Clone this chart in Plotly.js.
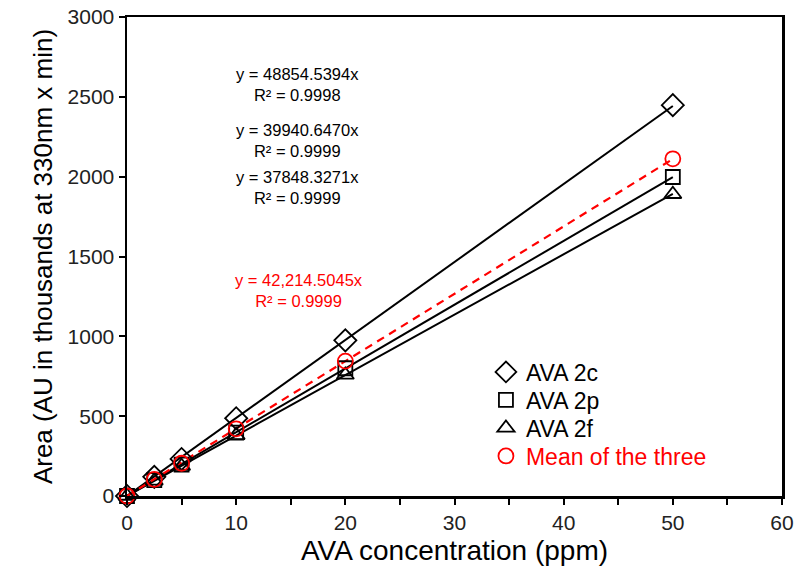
<!DOCTYPE html>
<html><head><meta charset="utf-8">
<script src="https://cdn.plot.ly/plotly-3.0.1.min.js"></script>
<style>body{margin:0;background:#fff}#c{width:798px;height:573px}</style>
</head><body><div id="c"></div>
<script>
const conc = [0, 2.5, 5, 10, 20, 50];
const ava2c = [0, 120, 232, 487, 975, 2448];
const ava2p = [0, 100, 196, 397, 800, 1998];
const ava2f = [0, 95, 187, 380, 758, 1890];
const meanThree = [0, 104, 205, 421, 845, 2112];
const slopes = {c: 48854.5394, p: 39940.6470, f: 37848.3271, m: 42214.5045};
const fitX = [0, 50];
const fit = s => fitX.map(x => s * x / 1000);

const font = 'Liberation Sans, Arial, sans-serif';
const mk = (sym, col, sz) => ({symbol: sym, size: sz, color: col, line: {color: col, width: 1.8}});

const traces = [
  {x: fitX, y: fit(slopes.c), mode: 'lines', line: {color: '#000', width: 2}, showlegend: false, hoverinfo: 'skip'},
  {x: fitX, y: fit(slopes.p), mode: 'lines', line: {color: '#000', width: 2}, showlegend: false, hoverinfo: 'skip'},
  {x: fitX, y: fit(slopes.f), mode: 'lines', line: {color: '#000', width: 2}, showlegend: false, hoverinfo: 'skip'},
  {x: fitX, y: fit(slopes.m), mode: 'lines', line: {color: '#ff0000', width: 2.2, dash: '8px,6px'}, showlegend: false, hoverinfo: 'skip'},
  {x: conc, y: ava2c, mode: 'markers', name: 'AVA 2c', legend: 'legend', marker: mk('diamond-open', '#000', 17), cliponaxis: false},
  {x: conc, y: ava2p, mode: 'markers', name: 'AVA 2p', legend: 'legend2', marker: mk('square-open', '#000', 14), cliponaxis: false},
  {x: conc, y: ava2f, mode: 'markers', name: 'AVA 2f', legend: 'legend3', marker: mk('triangle-up-open', '#000', 15), cliponaxis: false},
  {x: conc, y: meanThree, mode: 'markers', name: 'Mean of the three', legend: 'legend4', marker: mk('circle-open', '#ff0000', 15), cliponaxis: false}
];

const leg = (yc, col) => ({
  x: 0.548, y: yc, xanchor: 'left', yanchor: 'middle',
  font: {family: font, size: 23, color: col},
  bgcolor: 'rgba(0,0,0,0)', itemwidth: 30
});

const annFont = {family: font, size: 16.5, color: '#000'};
const layout = {
  width: 798, height: 573,
  margin: {l: 127, r: 16, t: 17, b: 77},
  paper_bgcolor: '#fff', plot_bgcolor: '#fff',
  font: {family: font, color: '#000'},
  xaxis: {
    range: [0, 60], dtick: 10, tick0: 0, showgrid: false, zeroline: false,
    showline: true, linecolor: '#000', linewidth: 2.5, mirror: true,
    ticks: 'outside', ticklen: 6, tickwidth: 2, tickcolor: '#000',
    minor: {dtick: 5, ticks: 'outside', ticklen: 6, tickwidth: 2, tickcolor: '#000'},
    tickfont: {family: font, size: 21, color: '#222'},
    title: {text: 'AVA concentration (ppm)', font: {family: font, size: 28, color: '#000'}, standoff: 8}
  },
  yaxis: {
    range: [0, 3000], dtick: 500, tick0: 0, showgrid: false, zeroline: false,
    showline: true, linecolor: '#000', linewidth: 2.5, mirror: true,
    ticks: 'outside', ticklen: 6, tickwidth: 2, tickcolor: '#000',
    tickfont: {family: font, size: 21, color: '#222'},
    title: {text: 'Area (AU in thousands at 330nm x min)', font: {family: font, size: 26, color: '#000'}, standoff: 8}
  },
  legend: leg(0.2589, '#000'),
  legend2: leg(0.2004, '#000'),
  legend3: leg(0.1420, '#000'),
  legend4: leg(0.0835, '#ff0000'),
  showlegend: true,
  annotations: [
    {x: 15.66, y: 2580, text: 'y = 48854.5394x<br>R² = 0.9998', showarrow: false, font: annFont},
    {x: 15.66, y: 2225, text: 'y = 39940.6470x<br>R² = 0.9999', showarrow: false, font: annFont},
    {x: 15.66, y: 1935, text: 'y = 37848.3271x<br>R² = 0.9999', showarrow: false, font: annFont},
    {x: 15.8, y: 1290, text: 'y = 42,214.5045x<br>R² = 0.9999', showarrow: false, font: {family: font, size: 16.5, color: '#ff0000'}}
  ]
};
Plotly.newPlot('c', traces, layout, {displayModeBar: false, staticPlot: true});
</script></body></html>
